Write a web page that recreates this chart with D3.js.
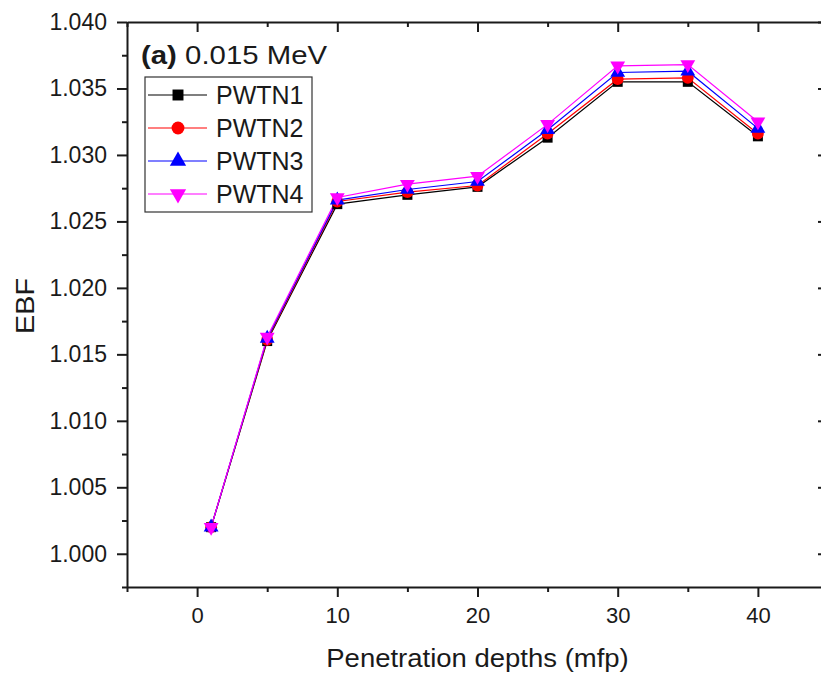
<!DOCTYPE html>
<html lang="en">
<head>
<meta charset="UTF-8">
<title>EBF vs penetration depth</title>
<script src="https://d3js.org/d3.v7.min.js"></script>
<style>
    body { margin: 0; background: #fff; }
    text { font-family: Arial, "Liberation Sans", sans-serif; fill: #1a1a1a; }
</style>
</head>
<body>
<script>

// data
const depths = [1, 5, 10, 15, 20, 25, 30, 35, 40];
const seriesNames = ['PWTN1', 'PWTN2', 'PWTN3', 'PWTN4'];
const pwtn1 = [1.0020, 1.0160, 1.0263, 1.0270, 1.0276, 1.0313, 1.0355, 1.0355, 1.0314];
const pwtn2 = [1.0020, 1.0161, 1.0265, 1.0272, 1.0277, 1.0316, 1.0357, 1.0358, 1.0316];
const pwtn3 = [1.0020, 1.0162, 1.0266, 1.0274, 1.0280, 1.0319, 1.0362, 1.0363, 1.0320];
const pwtn4 = [1.0020, 1.0163, 1.0268, 1.0278, 1.0284, 1.0323, 1.0367, 1.0368, 1.0325];
const xMajor = [0, 10, 20, 30, 40];
const xMinor = [-5, 5, 15, 25, 35, 45];
const yMajor = [1.000, 1.005, 1.010, 1.015, 1.020, 1.025, 1.030, 1.035, 1.040];
const yMinor = [0.9975, 1.0025, 1.0075, 1.0125, 1.0175, 1.0225, 1.0275, 1.0325, 1.0375];

const seriesValues = [pwtn1, pwtn2, pwtn3, pwtn4];
const colors = ['#000000', '#ff0000', '#0000ff', '#ff00ff'];
const shapes = [d3.symbolSquare, d3.symbolCircle, d3.symbolTriangle, d3.symbolTriangle];
const sizes = [100, 110, 95, 95];
const rotations = [0, 0, 0, 180];

const W = 821, H = 674;
const mLeft = 127, mRight = 828, mTop = 22, mBottom = 587;

const svg = d3.select('body').append('svg')
    .attr('width', W)
    .attr('height', H);

const x = d3.scaleLinear().domain([-5, 45]).range([mLeft, mRight]);
const y = d3.scaleLinear().domain([0.9975, 1.040]).range([mBottom, mTop]);

// axes: major + minor, outer ticks on bottom/left, inner on top/right
function drawAxis(axisFn, scale, tr, major, minor, size, labels) {
    const g = svg.append('g').attr('transform', tr);
    g.call(axisFn(scale).tickValues(major).tickSize(size).tickSizeOuter(0)
        .tickPadding(labels ? 10 : 0)
        .tickFormat(labels ? labels : ''));
    g.append('g').call(axisFn(scale).tickValues(minor).tickSize(size / 2).tickFormat(''))
        .select('.domain').remove();
    g.selectAll('.domain').attr('stroke', '#1a1a1a').attr('stroke-width', 2);
    g.selectAll('.tick line').attr('stroke', '#1a1a1a').attr('stroke-width', 2);
    return g;
}

const gx = drawAxis(d3.axisBottom, x, `translate(0,${mBottom})`, xMajor, xMinor, 10, d3.format('d'));
gx.selectAll('.tick text').attr('font-size', 22).attr('dy', '0.71em');

const gy = drawAxis(d3.axisLeft, y, `translate(${mLeft},0)`, yMajor, yMinor, 10, d3.format('.3f'));
gy.selectAll('.tick text').attr('font-size', 23);

drawAxis(d3.axisTop, x, `translate(0,${mTop})`, xMajor, xMinor, -10, null);
drawAxis(d3.axisRight, y, `translate(${mRight},0)`, yMajor, yMinor, -10, null);

svg.selectAll('.tick text').style('font-family', 'Arial, "Liberation Sans", sans-serif').attr('fill', '#1a1a1a');

// axis titles (the source font is a little wider than Arial)
svg.append('text')
    .attr('transform', `translate(${x(20)},667) scale(1.1,1)`)
    .attr('text-anchor', 'middle')
    .attr('font-size', 25)
    .text('Penetration depths (mfp)');

svg.append('text')
    .attr('transform', `translate(34,306) rotate(-90) scale(1.15,1)`)
    .attr('text-anchor', 'middle')
    .attr('font-size', 25)
    .text('EBF');

// panel label
const title = svg.append('text')
    .attr('transform', 'translate(141,64) scale(1.13,1)')
    .attr('font-size', 26);
title.append('tspan').attr('font-weight', 'bold').text('(a)');
title.append('tspan').text(' 0.015 MeV');

// series
const line = d3.line()
    .x((d, i) => x(depths[i]))
    .y(d => y(d));

seriesValues.forEach((vals, s) => {
    svg.append('path')
        .datum(vals)
        .attr('fill', 'none')
        .attr('stroke', colors[s])
        .attr('stroke-width', 1.2)
        .attr('d', line);
});

seriesValues.forEach((vals, s) => {
    svg.append('g').selectAll('path')
        .data(vals)
        .enter()
        .append('path')
        .attr('d', d3.symbol().type(shapes[s]).size(sizes[s]))
        .attr('transform', (d, i) => `translate(${x(depths[i])},${y(d)}) rotate(${rotations[s]})`)
        .attr('fill', colors[s]);
});

// legend
const legend = svg.append('g').attr('transform', 'translate(145,77)');
legend.append('rect')
    .attr('width', 167)
    .attr('height', 135)
    .attr('fill', '#fff')
    .attr('stroke', '#333')
    .attr('stroke-width', 1.2);

const rows = legend.selectAll('g.row')
    .data(seriesNames)
    .enter()
    .append('g')
    .attr('class', 'row')
    .attr('transform', (d, i) => `translate(0,${18 + i * 33})`);

rows.append('line')
    .attr('x1', 3).attr('x2', 62)
    .attr('stroke', (d, i) => colors[i])
    .attr('stroke-width', 1.2);

rows.append('path')
    .attr('d', (d, i) => d3.symbol().type(shapes[i]).size(sizes[i] + 20)())
    .attr('transform', (d, i) => `translate(33,0) rotate(${rotations[i]})`)
    .attr('fill', (d, i) => colors[i]);

rows.append('text')
    .attr('x', 71)
    .attr('dy', '0.36em')
    .attr('font-size', 25)
    .text(d => d);

</script>
</body>
</html>
